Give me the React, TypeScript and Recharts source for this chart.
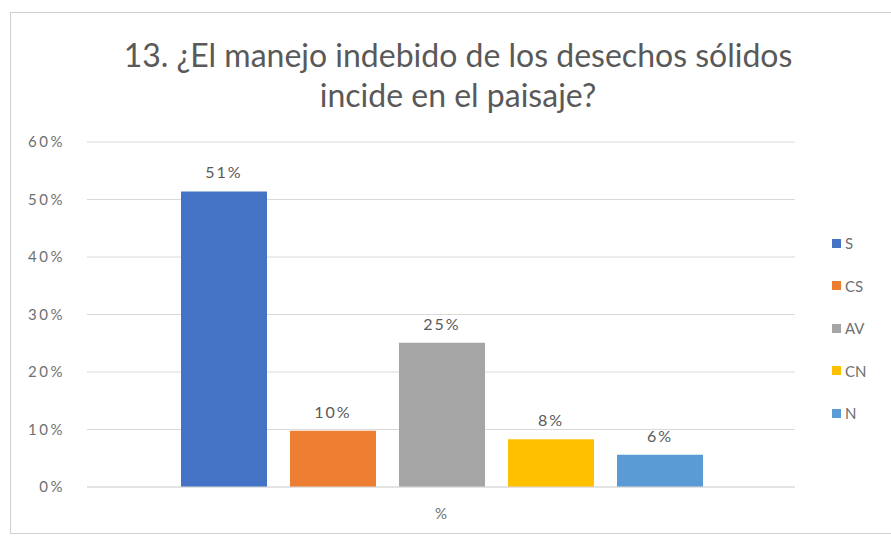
import React from 'react';
import { BarChart, Bar, XAxis, YAxis, CartesianGrid, LabelList } from 'recharts';

const categories = ['%'];
const seriesNames = ['S', 'CS', 'AV', 'CN', 'N'];
const seriesValues = [51.4, 9.8, 25.1, 8.3, 5.6];
const seriesColors = ['#4472C4', '#ED7D31', '#A5A5A5', '#FFC000', '#5B9BD5'];
const yTicks = [0, 10, 20, 30, 40, 50, 60];
const titleLines = ['13. ¿El manejo indebido de los desechos sólidos', 'incide en el paisaje?'];

const data = categories.map((c) => {
  const row: Record<string, any> = { name: c };
  seriesNames.forEach((s, i) => {
    row[s] = seriesValues[i];
  });
  return row;
});

const FONT = 'Lato, "Noto Sans", sans-serif';
const GRAY = '#595959';
const TICK = '#707070';

export default function App() {
  return (
    <div style={{ position: 'absolute', left: 0, top: 0, width: 891, height: 539, background: '#fff', overflow: 'hidden' }}>
      <div style={{ position: 'absolute', left: 10, top: 12, width: 900, height: 522, border: '1px solid #d0d0d0', boxSizing: 'border-box' }} />
      <div style={{ position: 'absolute', left: 0, top: 35, width: 916, textAlign: 'center', fontFamily: FONT, fontSize: 32, lineHeight: '40px', color: GRAY }}>
        {titleLines.map((t) => (
          <div key={t}>{t}</div>
        ))}
      </div>
      <BarChart
        width={891}
        height={539}
        data={data}
        margin={{ top: 142, right: 96, bottom: 22, left: 20 }}
        barCategoryGap={94}
        barGap={23}
        style={{ position: 'absolute', left: 0, top: 0 }}
      >
        <CartesianGrid vertical={false} stroke="#d9d9d9" strokeWidth={1} />
        <XAxis
          dataKey="name"
          axisLine={{ stroke: '#d9d9d9' }}
          tickLine={false}
          tickSize={0}
          tickMargin={21}
          height={30}
          tick={{ fill: TICK, fontSize: 15, fontFamily: FONT }}
        />
        <YAxis
          domain={[0, 60]}
          ticks={yTicks}
          width={67}
          axisLine={false}
          tickLine={false}
          tickSize={0}
          tickMargin={22}
          tickFormatter={(v: number) => `${v}%`}
          tick={{ fill: TICK, fontSize: 15, fontFamily: FONT, letterSpacing: 2.5 }}
        />
        {seriesNames.map((s, i) => (
          <Bar key={s} dataKey={s} fill={seriesColors[i]} isAnimationActive={false}>
            <LabelList
              dataKey={s}
              position="top"
              offset={13}
              formatter={(v: any) => `${Math.round(Number(v))}%`}
              style={{ fill: GRAY, fontSize: 16, fontFamily: FONT, letterSpacing: 2 }}
            />
          </Bar>
        ))}
      </BarChart>
      <div style={{ position: 'absolute', left: 832, top: 222, fontFamily: FONT, fontSize: 15, color: TICK }}>
        {seriesNames.map((s, i) => (
          <div key={s} style={{ display: 'flex', alignItems: 'center', height: 42.5 }}>
            <span style={{ display: 'inline-block', width: 9, height: 9, background: seriesColors[i], marginRight: 4 }} />
            <span>{s}</span>
          </div>
        ))}
      </div>
    </div>
  );
}
